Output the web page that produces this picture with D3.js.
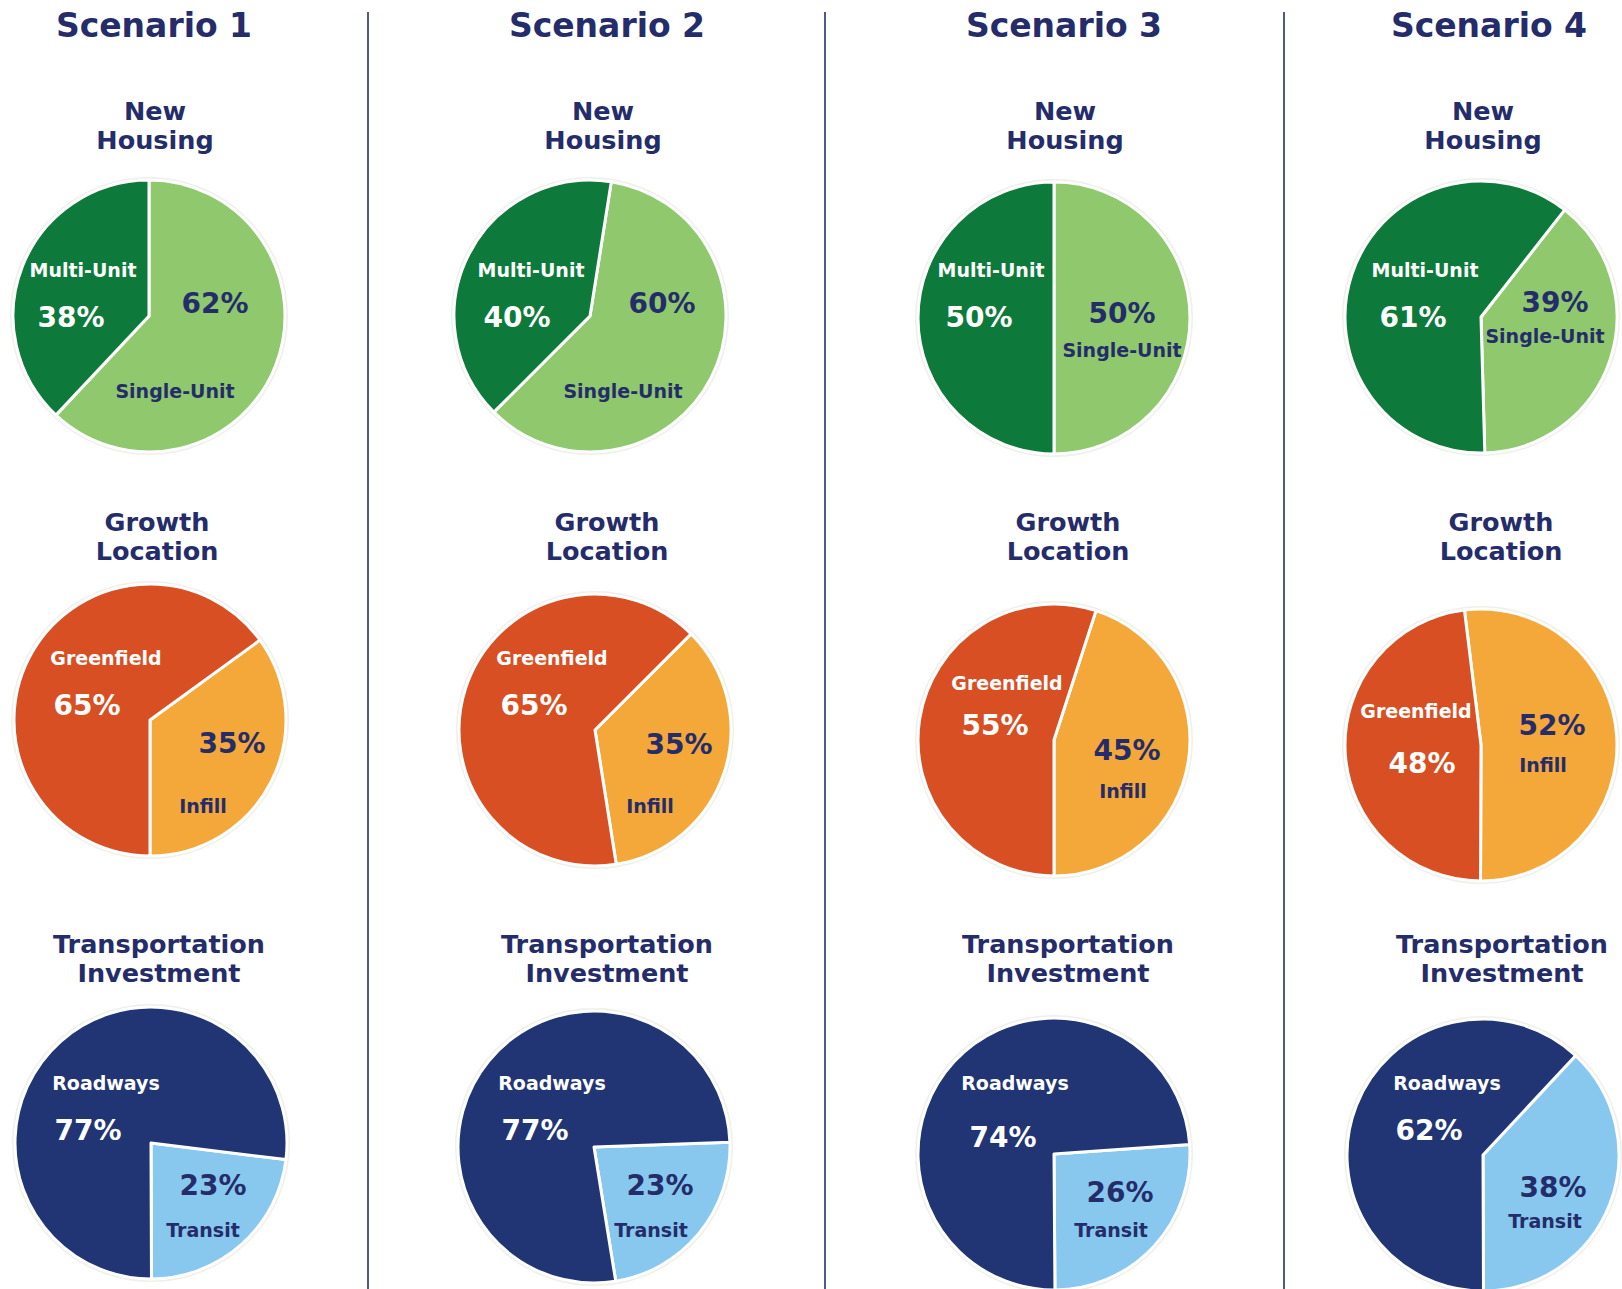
<!DOCTYPE html>
<html>
<head>
<meta charset="utf-8">
<script src="https://cdn.jsdelivr.net/npm/d3@7"></script>
<style>
  html, body { margin: 0; padding: 0; background: #ffffff; }
  svg { display: block; }
  text { font-family: "DejaVu Sans", "Open Sans", sans-serif; font-weight: bold; }
</style>
</head>
<body>
<svg id="chart" width="1622" height="1289"></svg>
<script>
// ---- data ----
const scenarios = ["Scenario 1", "Scenario 2", "Scenario 3", "Scenario 4"];

const housingTitle = ["New", "Housing"];
const housingNames = ["Multi-Unit", "Single-Unit"];
const multiUnit = [38, 40, 50, 61];
const singleUnit = [62, 60, 50, 39];

const growthTitle = ["Growth", "Location"];
const growthNames = ["Greenfield", "Infill"];
const greenfield = [65, 65, 55, 48];
const infill = [35, 35, 45, 52];

const transportTitle = ["Transportation", "Investment"];
const transportNames = ["Roadways", "Transit"];
const roadways = [77, 77, 74, 62];
const transit = [23, 23, 26, 38];

// ---- styling ----
const navy = "#252c6a";
const rowsSpec = [
  { title: housingTitle, names: housingNames, dark: multiUnit, light: singleUnit,
    darkColor: "#0d7a3b", lightColor: "#8fc86d" },
  { title: growthTitle, names: growthNames, dark: greenfield, light: infill,
    darkColor: "#d84f23", lightColor: "#f4a83a" },
  { title: transportTitle, names: transportNames, dark: roadways, light: transit,
    darkColor: "#213474", lightColor: "#88c8ef" }
];

// ---- layout ----
const width = 1622, height = 1289;
const radius = 136;
const headingX = [154, 607, 1064, 1489];
const headingY = 37;
const dividerX = [368, 825, 1284];
const subtitleX = [
  [155, 603, 1065, 1483],
  [157, 607, 1068, 1501],
  [159, 607, 1068, 1502]
];
const subtitleY = [[120, 149], [531, 560], [953, 982]];
const pieCenters = [
  [[149, 316], [590, 316], [1054, 318], [1481, 317]],
  [[150, 720], [595, 730], [1054, 740], [1481, 745]],
  [[151, 1143], [594, 1147], [1054, 1154], [1483, 1155]]
];
// angle (degrees, clockwise from 12 o'clock) where the lighter slice begins
const lightStart = [
  [0, 9, 0, 38],
  [54, 45, 18, -7],
  [97, 88, 86, 43]
];
// label offsets from the pie centre: dark name, dark value, light value, light name
const labelOffsets = [
  [
    [[-66, -39], [-78, 11], [66, -3], [26, 82]],
    [[-59, -39], [-73, 11], [72, -3], [33, 82]],
    [[-63, -41], [-75, 9], [68, 5], [68, 39]],
    [[-56, -40], [-68, 10], [74, -5], [64, 26]]
  ],
  [
    [[-44, -55], [-63, -5], [82, 33], [53, 93]],
    [[-43, -65], [-61, -15], [84, 24], [55, 83]],
    [[-47, -50], [-59, -5], [73, 20], [69, 58]],
    [[-65, -27], [-59, 28], [71, -10], [62, 27]]
  ],
  [
    [[-45, -53], [-63, -3], [62, 52], [52, 94]],
    [[-42, -57], [-59, -7], [66, 48], [57, 90]],
    [[-39, -64], [-51, -7], [66, 48], [57, 83]],
    [[-36, -65], [-54, -15], [70, 42], [62, 73]]
  ]
];

const svg = d3.select("#chart");

// column dividers
svg.selectAll("line.divider")
  .data(dividerX)
  .join("line")
  .attr("class", "divider")
  .attr("x1", d => d).attr("x2", d => d)
  .attr("y1", 12).attr("y2", height)
  .attr("stroke", "#505a86")
  .attr("stroke-width", 2);

// scenario headings
svg.selectAll("text.heading")
  .data(scenarios)
  .join("text")
  .attr("class", "heading")
  .attr("x", (d, i) => headingX[i])
  .attr("y", headingY)
  .attr("text-anchor", "middle")
  .attr("font-size", 33)
  .attr("fill", navy)
  .text(d => d);

const arc = d3.arc().innerRadius(0).outerRadius(radius);
const toRad = Math.PI / 180;

rowsSpec.forEach((row, r) => {
  scenarios.forEach((s, c) => {
    // subtitle (two lines)
    row.title.forEach((line, k) => {
      svg.append("text")
        .attr("x", subtitleX[r][c])
        .attr("y", subtitleY[r][k])
        .attr("text-anchor", "middle")
        .attr("font-size", 25.5)
        .attr("fill", navy)
        .text(line);
    });

    const [cx, cy] = pieCenters[r][c];
    const start = lightStart[r][c] * toRad;
    const slices = [
      { key: "light", name: row.names[1], value: row.light[c], color: row.lightColor },
      { key: "dark", name: row.names[0], value: row.dark[c], color: row.darkColor }
    ];
    const pie = d3.pie().sort(null).value(d => d.value)
      .startAngle(start).endAngle(start + 2 * Math.PI);

    const g = svg.append("g").attr("transform", `translate(${cx},${cy})`);

    // faint rim around the pie
    g.append("circle")
      .attr("r", radius + 1.5)
      .attr("fill", "none")
      .attr("stroke", "#eef0ea")
      .attr("stroke-width", 3);

    g.selectAll("path")
      .data(pie(slices))
      .join("path")
      .attr("d", arc)
      .attr("fill", d => d.data.color)
      .attr("stroke", "#ffffff")
      .attr("stroke-width", 3)
      .attr("stroke-linejoin", "round");

    const off = labelOffsets[r][c];
    const dark = slices[1], light = slices[0];
    const labels = [
      { text: dark.name, pos: off[0], size: 19, color: "#ffffff" },
      { text: dark.value + "%", pos: off[1], size: 28, color: "#ffffff" },
      { text: light.value + "%", pos: off[2], size: 28, color: navy },
      { text: light.name, pos: off[3], size: 19, color: navy }
    ];
    g.selectAll("text")
      .data(labels)
      .join("text")
      .attr("x", d => d.pos[0])
      .attr("y", d => d.pos[1])
      .attr("text-anchor", "middle")
      .attr("font-size", d => d.size)
      .attr("fill", d => d.color)
      .text(d => d.text);
  });
});
</script>
</body>
</html>
